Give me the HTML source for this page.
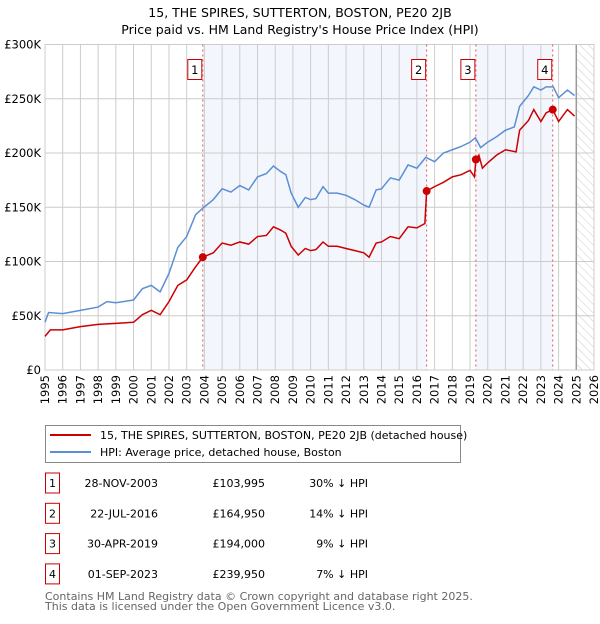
<!DOCTYPE html>
<html><head><meta charset="utf-8">
<style>
body{margin:0;background:#fff;font-family:"DejaVu Sans","Liberation Sans",sans-serif;}
svg text{font-family:"DejaVu Sans","Liberation Sans",sans-serif;}
</style></head>
<body>
<svg width="600" height="620" xmlns="http://www.w3.org/2000/svg">
<defs>
<pattern id="hatch" width="6" height="6" patternUnits="userSpaceOnUse" patternTransform="rotate(-45)">
<line x1="0" y1="0" x2="0" y2="6" stroke="#ccc" stroke-width="1"/>
</pattern>
</defs>
<text x="300" y="17" text-anchor="middle" font-size="12.5">15, THE SPIRES, SUTTERTON, BOSTON, PE20 2JB</text>
<text x="300" y="34" text-anchor="middle" font-size="12.5">Price paid vs. HM Land Registry's House Price Index (HPI)</text>
<g id="plot"></g>
<g>
<rect x="45.5" y="425.5" width="415" height="37" fill="#fff" stroke="#888"/>
<line x1="50" y1="435" x2="91" y2="435" stroke="#cc0000" stroke-width="2"/>
<text x="100" y="439" font-size="11">15, THE SPIRES, SUTTERTON, BOSTON, PE20 2JB (detached house)</text>
<line x1="50" y1="452" x2="91" y2="452" stroke="#5b8fd4" stroke-width="2"/>
<text x="100" y="456" font-size="11">HPI: Average price, detached house, Boston</text>
</g>
<g id="table" font-size="11"></g>
<text x="45" y="600" font-size="11" fill="#666">Contains HM Land Registry data © Crown copyright and database right 2025.</text>
<text x="45" y="610" font-size="11" fill="#666">This data is licensed under the Open Government Licence v3.0.</text>
</svg>
<script>
const hpiYears=[1995,1995.2,1996,1997,1998,1998.5,1999,2000,2000.5,2001,2001.5,2002,2002.5,2003,2003.5,2003.9,2004.5,2005,2005.5,2006,2006.5,2007,2007.5,2007.9,2008.3,2008.6,2008.9,2009.3,2009.7,2010,2010.3,2010.7,2011,2011.5,2012,2012.5,2013,2013.3,2013.7,2014,2014.5,2015,2015.5,2016,2016.5,2017,2017.5,2018,2018.5,2019,2019.3,2019.6,2020,2020.5,2021,2021.5,2021.8,2022.3,2022.6,2023,2023.3,2023.7,2024,2024.5,2024.9];
const hpiValues=[44,53,52,55,58,63,62,64.5,75,78,72,89,113,123,143,149,157,167,164,170,166,178,181,188,183,180,163,150,159,157,158,169,163,163,161,157,152,150,166,167,177,175,189,186,196,192,200,203,206,210,214,205,210,215,221,224,243,253,261,258,261,261,251,258,253];
const propYears=[1995,1995.3,1996,1997,1998,1999,2000,2000.5,2001,2001.5,2002,2002.5,2003,2003.5,2003.91,2004.5,2005,2005.5,2006,2006.5,2007,2007.5,2007.9,2008.3,2008.6,2008.9,2009.3,2009.7,2010,2010.3,2010.7,2011,2011.5,2012,2012.5,2013,2013.3,2013.7,2014,2014.5,2015,2015.5,2016,2016.45,2016.55,2017,2017.5,2018,2018.5,2019,2019.25,2019.33,2019.5,2019.7,2020,2020.5,2021,2021.6,2021.8,2022.3,2022.6,2023,2023.3,2023.67,2024,2024.5,2024.9];
const propValues=[31,37,37,40,42,43,44,51,55,51,63,78,83,95,104,108,117,115,118,116,123,124,132,129,126,114,106,112,110,111,118,114,114,112,110,108,104,117,118,123,121,132,131,135,165,169,173,178,180,184,178,194,198,186,191,198,203,201,221,230,240,229,237,240,229,240,234];
const saleLabels=["1","2","3","4"];
const saleYears=[2003.91,2016.55,2019.33,2023.67];
const saleValues=[103.995,164.95,194,239.95];
const saleDates=["28-NOV-2003","22-JUL-2016","30-APR-2019","01-SEP-2023"];
const salePrices=["£103,995","£164,950","£194,000","£239,950"];
const salePcts=["30% ↓ HPI","14% ↓ HPI","9% ↓ HPI","7% ↓ HPI"];
const yTicks=[0,50,100,150,200,250,300];
const yTickLabels=["£0","£50K","£100K","£150K","£200K","£250K","£300K"];
const xTicks=[1995,1996,1997,1998,1999,2000,2001,2002,2003,2004,2005,2006,2007,2008,2009,2010,2011,2012,2013,2014,2015,2016,2017,2018,2019,2020,2021,2022,2023,2024,2025,2026];

const L=45,R=594,T=44.5,B=370;
const X=y=>L+(y-1995)/(2026-1995)*(R-L);
const Y=v=>B-v/300*(B-T);
const NS="http://www.w3.org/2000/svg";
const plot=document.getElementById('plot');
function mk(tag,attrs,parent){const e=document.createElementNS(NS,tag);for(const k in attrs)e.setAttribute(k,attrs[k]);(parent||plot).appendChild(e);return e;}

for(let i=0;i<saleYears.length;i+=2){
  const x1=X(saleYears[i]),x2=i+1<saleYears.length?X(saleYears[i+1]):X(2025);
  const r=mk('rect',{x:x1,y:T,width:x2-x1,height:B-T,fill:'#eef3fc',opacity:0.7});
  
  
}
const hz=mk('rect',{x:X(2025),y:T,width:R-X(2025),height:B-T,fill:'url(#hatch)'});


xTicks.forEach(t=>{mk('line',{x1:X(t),y1:T,x2:X(t),y2:B,stroke:'#ccc','stroke-width':1});
  const tx=mk('text',{x:0,y:0,'text-anchor':'end','font-size':11.5,transform:`translate(${X(t)+4},${B+5}) rotate(-90)`});tx.textContent=t;
  
  });
yTicks.forEach((t,i)=>{mk('line',{x1:L,y1:Y(t),x2:R,y2:Y(t),stroke:'#ccc','stroke-width':1});
  const tx=mk('text',{x:L-4,y:Y(t)+4,'text-anchor':'end','font-size':11.5});tx.textContent=yTickLabels[i];
  
  });
mk('line',{x1:X(2025),y1:T,x2:X(2025),y2:B,stroke:'#999','stroke-width':1.5});
mk('rect',{x:L,y:T,width:R-L,height:B-T,fill:'none',stroke:'#ccc'});
saleYears.forEach(s=>mk('line',{x1:X(s),y1:T,x2:X(s),y2:B,stroke:'#e05555','stroke-width':1,'stroke-dasharray':'2,3'}));
const hp=mk('polyline',{points:hpiYears.map((y,i)=>X(y)+','+Y(hpiValues[i])).join(' '),fill:'none',stroke:'#5b8fd4','stroke-width':1.5});


const pp=mk('polyline',{points:propYears.map((y,i)=>X(y)+','+Y(propValues[i])).join(' '),fill:'none',stroke:'#cc0000','stroke-width':1.5});


saleYears.forEach((s,i)=>{
  const c=mk('circle',{cx:X(s),cy:Y(saleValues[i]),r:4,fill:'#cc0000'});
  
  
  const g=mk('g',{});
  
  
  mk('rect',{x:X(s)-15,y:59.5,width:14,height:20,fill:'#fff',stroke:'#cc0000'},g);
  const t=mk('text',{x:X(s)-8,y:74,'text-anchor':'middle','font-size':11.5},g);t.textContent=saleLabels[i];
});
const tb=document.getElementById('table');
saleLabels.forEach((l,i)=>{
  const cy=483+i*30.3;
  const g=mk('g',{},tb);
  
  
  mk('rect',{x:45.5,y:cy-10,width:14,height:20,fill:'#fff',stroke:'#cc0000'},g);
  const a=mk('text',{x:52.5,y:cy+4,'text-anchor':'middle'},g);a.textContent=l;
  const d=mk('text',{x:158,y:cy+4,'text-anchor':'end'},g);d.textContent=saleDates[i];
  const p=mk('text',{x:265,y:cy+4,'text-anchor':'end'},g);p.textContent=salePrices[i];
  const q=mk('text',{x:368,y:cy+4,'text-anchor':'end'},g);q.textContent=salePcts[i];
});
</script>
</body></html>
